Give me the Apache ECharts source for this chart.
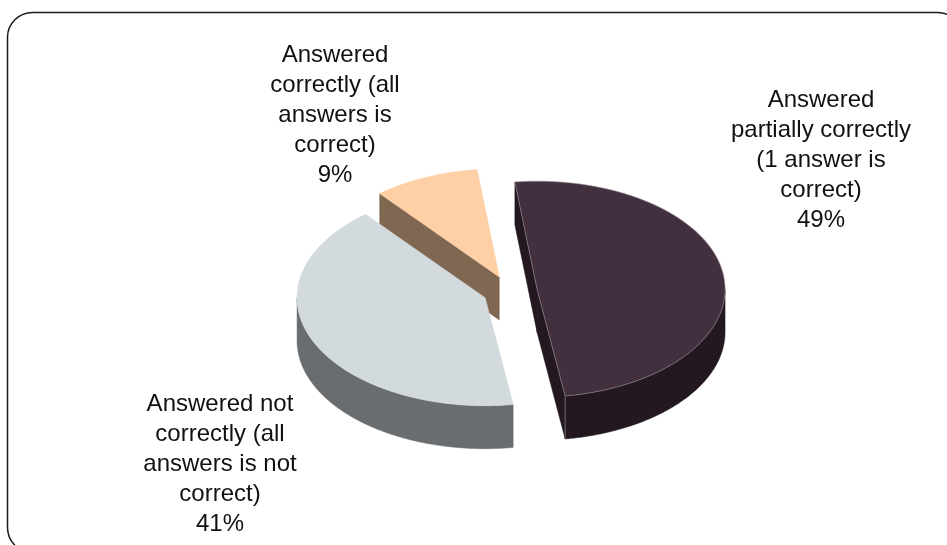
<!DOCTYPE html>
<html>
<head>
<meta charset="utf-8">
<style>
  html, body { margin: 0; padding: 0; background: #fff; }
  #chart { width: 947px; height: 545px; overflow: hidden; }
</style>
<script src="https://cdn.jsdelivr.net/npm/echarts@6/dist/echarts.min.js"></script>
</head>
<body>
<div id="chart"></div>
<script>
// Survey outcome shares, listed clockwise from the first slice.
const categories = [
  'Answered\ncorrectly (all\nanswers is\ncorrect)',
  'Answered\npartially correctly\n(1 answer is\ncorrect)',
  'Answered not\ncorrectly (all\nanswers is not\ncorrect)'
];
const shares = [9, 49, 41];

// Colours per slice: top face, side wall, thin edge line.
const topColors = ['#FFCFA6', '#43303F', '#D3DADD'];
const wallColors = ['#806752', '#231820', '#696D6F'];
const edgeColors = ['#FFCFA6', '#9A919A', '#D3DADD'];

// Label anchor (centre of the text block) per slice.
const labelAnchors = [[335, 115], [821, 160], [220, 464]];

// Tilted-pie projection.
const centre = [510, 291.3];
const radiusX = 188;
const radiusY = 108;
const depth = 43;
const explode = 27.3;
const startAngle = -39.5;

const total = shares.reduce((a, b) => a + b, 0);
const rad = d => d * Math.PI / 180;

// Angles run clockwise from twelve o'clock on the flat disc.
function project(c, angle, r) {
  return [c[0] + r * radiusX * Math.sin(rad(angle)),
          c[1] - r * radiusY * Math.cos(rad(angle))];
}
function arc(c, from, to) {
  const pts = [];
  const n = Math.max(2, Math.ceil(Math.abs(to - from) * 2));
  for (let i = 0; i <= n; i++) pts.push(project(c, from + (to - from) * i / n, 1));
  return pts;
}
const drop = pts => pts.map(p => [p[0], p[1] + depth]);

function renderSlice(params, api) {
  const i = params.dataIndex;
  const before = shares.slice(0, i).reduce((a, b) => a + b, 0);
  const a0 = startAngle + before / total * 360;
  const a1 = a0 + api.value(0) / total * 360;
  const c = project(centre, (a0 + a1) / 2, explode / radiusX);
  const wallStyle = { fill: wallColors[i], stroke: wallColors[i], lineWidth: 0.5 };
  const children = [];
  const quad = (p, q) => ({
    type: 'polygon',
    shape: { points: [p, q, [q[0], q[1] + depth], [p[0], p[1] + depth]] },
    style: wallStyle
  });

  // Flat cut faces show only when their outward normal turns towards the viewer.
  if (Math.cos(rad(a0 - 90)) < 0) children.push(quad(c, project(c, a0, 1)));
  if (Math.cos(rad(a1 + 90)) < 0) children.push(quad(c, project(c, a1, 1)));

  // Curved outer wall over the front half of the disc.
  const lo = Math.max(a0, 90);
  const hi = Math.min(a1, 270);
  if (hi > lo) {
    const rim = arc(c, lo, hi);
    children.push({
      type: 'polygon',
      shape: { points: rim.concat(drop(rim).reverse()) },
      style: wallStyle
    });
    const corner = project(c, a1, 1);
    if (a1 < 270) {
      children.push({
        type: 'line',
        shape: { x1: corner[0], y1: corner[1], x2: corner[0], y2: corner[1] + depth },
        style: { stroke: edgeColors[i], lineWidth: 0.6 }
      });
    }
  }

  // Top face.
  children.push({
    type: 'polygon',
    shape: { points: [c].concat(arc(c, a0, a1)) },
    style: { fill: topColors[i], stroke: edgeColors[i], lineWidth: 0.6 }
  });

  // Category name and share.
  children.push({
    type: 'text',
    style: {
      text: categories[i] + '\n' + api.value(0) + '%',
      x: labelAnchors[i][0], y: labelAnchors[i][1],
      align: 'center', verticalAlign: 'middle',
      fontFamily: '"Liberation Sans", Arial, sans-serif',
      fontSize: 24, lineHeight: 30, fill: '#111111'
    }
  });
  return { type: 'group', children };
}

const chart = echarts.init(document.getElementById('chart'), null, { renderer: 'canvas' });
chart.setOption({
  animation: false,
  backgroundColor: '#ffffff',
  graphic: [{
    type: 'rect', silent: true, z: -1,
    shape: { x: 7.5, y: 12.5, width: 955, height: 540, r: 25 },
    style: { fill: 'none', stroke: '#1a1a1a', lineWidth: 1.5 }
  }],
  series: [{
    type: 'custom',
    coordinateSystem: 'none',
    silent: true,
    renderItem: renderSlice,
    encode: { value: 0 },
    data: shares.map((v, i) => ({ name: categories[i], value: [v] }))
  }]
});
</script>
</body>
</html>
